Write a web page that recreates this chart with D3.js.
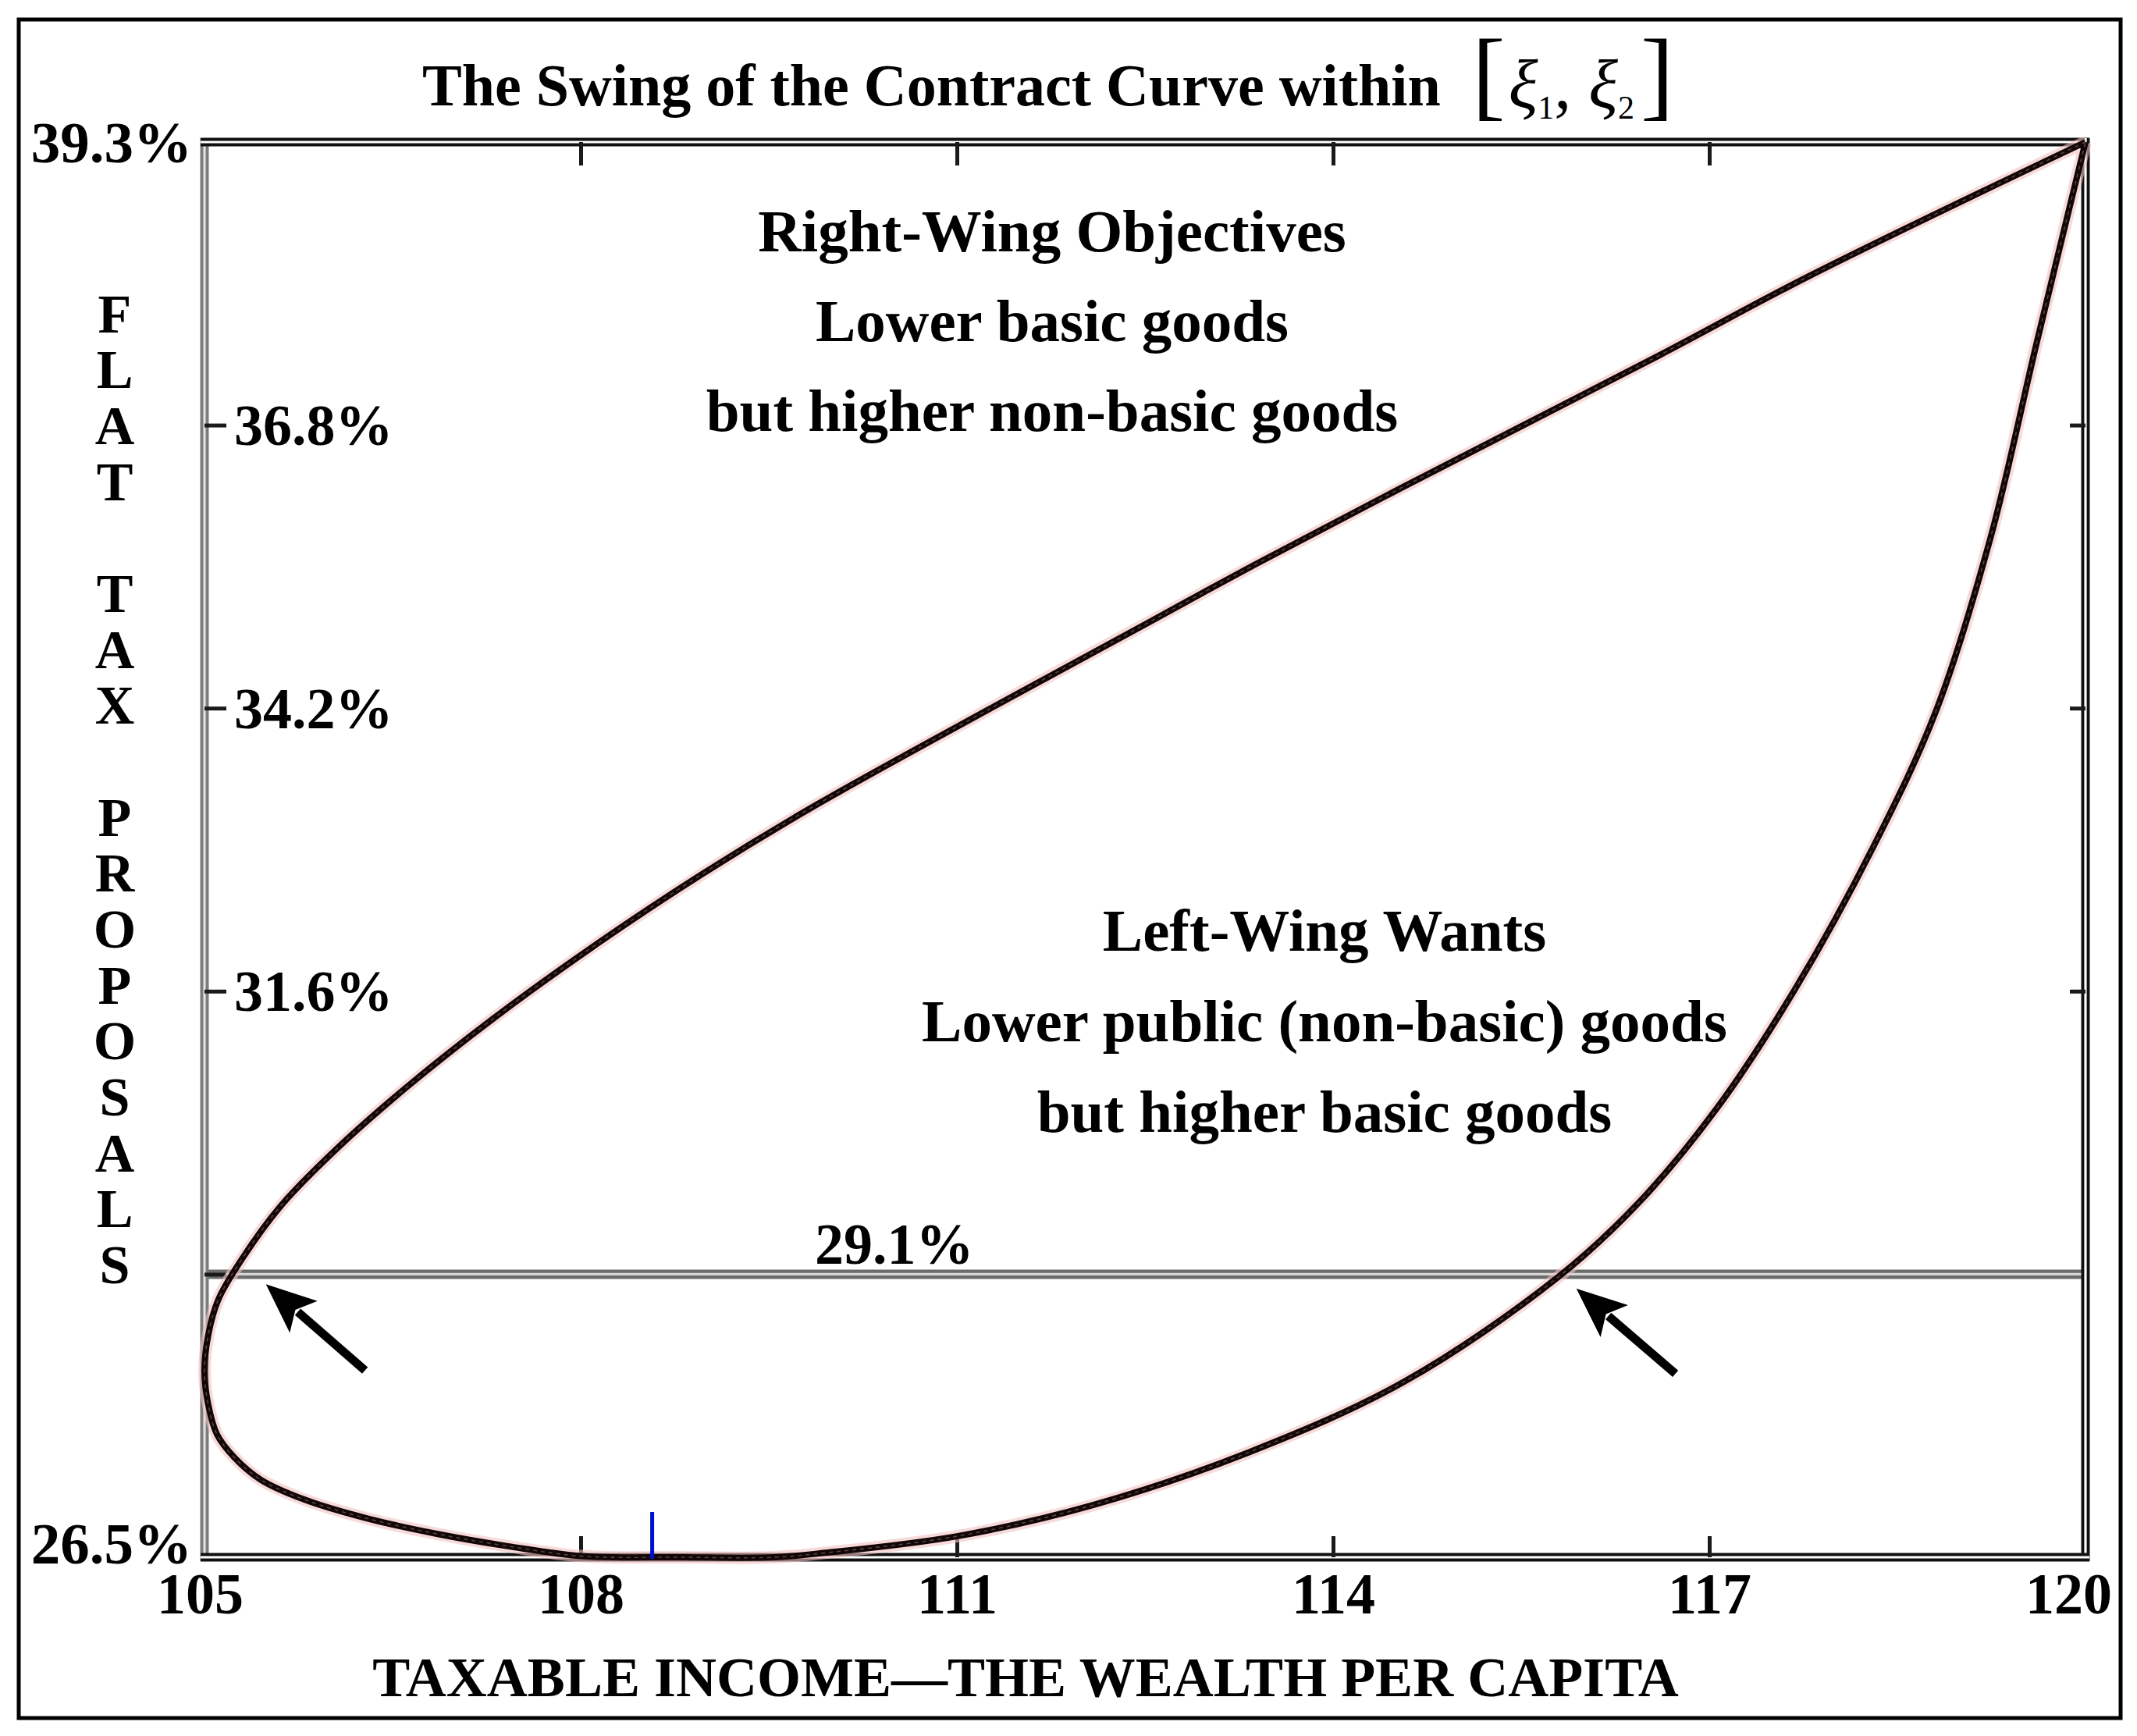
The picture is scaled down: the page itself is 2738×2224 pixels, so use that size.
<!DOCTYPE html>
<html>
<head>
<meta charset="utf-8">
<script src="https://cdn.jsdelivr.net/npm/d3@7"></script>
<style>
  body { margin: 0; background: #fff; }
  text { font-family: "Liberation Serif", "Times New Roman", serif; }
</style>
</head>
<body>
<div id="chart"></div>
<script>
// contract curve: start at the (120, 39.3%) corner, go down the
// upper branch, round the left end, along the bottom and back up the right branch
const curveX = [120, 117.80, 116.60, 114.54, 113.38, 112.52, 111.24, 109.81, 108.97, 108.12,
  107.30, 106.61, 106.05, 105.61, 105.30, 105.11, 105.03, 105.00, 105.03, 105.10,
  105.24, 105.45, 105.80, 106.30, 106.86, 107.42, 108.01, 108.80, 109.55, 109.95,
  111.00, 112.08, 113.33, 114.57, 115.79, 116.44, 117.06, 117.69, 118.31, 118.81,
  119.24, 119.61, 120];
const curveY = [39.3, 38.09, 37.37, 36.17, 35.48, 34.95, 34.16, 33.26, 32.68, 32.04,
  31.37, 30.75, 30.19, 29.68, 29.20, 28.83, 28.51, 28.18, 27.88, 27.61,
  27.40, 27.20, 27.02, 26.85, 26.71, 26.60, 26.51, 26.50, 26.50, 26.54,
  26.69, 26.97, 27.45, 28.09, 29.03, 29.71, 30.56, 31.65, 32.93, 34.16,
  35.71, 37.48, 39.3];

const xTicks = [105, 108, 111, 114, 117, 120];
const yTicks = [39.3, 36.74, 34.18, 31.62, 29.06, 26.5];
const yTickLabels = ["39.3%", "36.8%", "34.2%", "31.6%", "29.1%", "26.5%"];

const cutLevel = 29.06;   // the 29.1% line
const cutLabelX = 110.5;

const arrowTipX = [105.49, 115.94];
const arrowTipY = [28.97, 28.93];
const arrowTailX = [106.28, 116.73];
const arrowTailY = [28.19, 28.16];

const markX = 108.57;     // small blue mark on the bottom axis

const rightWingLines = ["Right-Wing Objectives", "Lower basic goods", "but higher non-basic goods"];
const leftWingLines = ["Left-Wing Wants", "Lower public (non-basic) goods", "but higher basic goods"];
const yTitle = "FLAT TAX PROPOSALS";
const xTitle = "TAXABLE INCOME\u2014THE WEALTH PER CAPITA";

// chart dimensions
const W = 2738, H = 2224;
const margin = { top: 182, right: 66, bottom: 229, left: 262 };
const width = W - margin.left - margin.right;
const height = H - margin.top - margin.bottom;

const svg = d3.select("#chart").append("svg")
  .attr("width", W)
  .attr("height", H)
  .style("background", "#fff");

// outer frame
svg.append("rect")
  .attr("x", 24).attr("y", 25)
  .attr("width", 2693).attr("height", 2176)
  .attr("fill", "none").attr("stroke", "#000").attr("stroke-width", 5);

const g = svg.append("g").attr("transform", `translate(${margin.left},${margin.top})`);

const x = d3.scaleLinear().domain([105, 120]).range([0, width]);
const y = d3.scaleLinear().domain([26.5, 39.3]).range([height, 0]);

// double ruled lines like the original box
function doubleLine(x1, y1, x2, y2, outer, inner, w) {
  g.append("line").attr("x1", x1).attr("y1", y1).attr("x2", x2).attr("y2", y2)
    .attr("stroke", outer).attr("stroke-width", w);
  g.append("line").attr("x1", x1).attr("y1", y1).attr("x2", x2).attr("y2", y2)
    .attr("stroke", inner).attr("stroke-width", w / 3.5);
}

doubleLine(0, y(cutLevel), width, y(cutLevel), "#6c6c6c", "#d6d6d6", 12);
doubleLine(0, -5, 0, height + 5, "#7c7c7c", "#e2e2e2", 11);
doubleLine(-5, 0, width + 5, 0, "#111", "#fff", 11);
doubleLine(width, -5, width, height + 5, "#111", "#fff", 11);
doubleLine(-5, height, width + 5, height, "#111", "#fff", 11);

// tick marks on top and right
const topAxis = g.append("g")
  .call(d3.axisTop(x).tickValues(xTicks.slice(1, -1)).tickSizeInner(-30).tickSizeOuter(0).tickFormat(""));
const rightAxis = g.append("g").attr("transform", `translate(${width},0)`)
  .call(d3.axisRight(y).tickValues(yTicks.slice(1, 4)).tickSizeInner(-20).tickSizeOuter(0).tickFormat(""));

// bottom axis with labels
const bottomAxis = g.append("g").attr("transform", `translate(0,${height})`)
  .call(d3.axisBottom(x).tickValues(xTicks).tickSizeInner(-27).tickSizeOuter(0).tickPadding(19));
bottomAxis.selectAll(".tick line").filter(d => d === 105 || d === 120).remove();
bottomAxis.selectAll(".tick text")
  .attr("dx", d => d === 120 ? -22 : d === 105 ? -6 : 0);

// left axis: inner ticks, labels inside the box
const leftAxis = g.append("g")
  .call(d3.axisRight(y).tickValues(yTicks.slice(1, 5)).tickSizeInner(28).tickSizeOuter(0).tickPadding(10)
    .tickFormat(d => yTickLabels[yTicks.indexOf(d)]));
leftAxis.selectAll(".tick text").filter(d => d === cutLevel).remove();

[topAxis, rightAxis, bottomAxis, leftAxis].forEach(a => {
  a.select(".domain").remove();
  a.selectAll(".tick line").attr("stroke", "#1a1a1a").attr("stroke-width", 5);
  a.selectAll(".tick text")
    .attr("fill", "#000")
    .style("font-family", "'Liberation Serif', serif")
    .style("font-size", "74px")
    .style("font-weight", "bold");
});
leftAxis.selectAll(".tick text").attr("dy", "0.34em");

// end labels outside on the left
[0, 5].forEach(i => {
  g.append("text")
    .attr("x", -16)
    .attr("y", y(yTicks[i]))
    .attr("dy", i === 0 ? "0.34em" : "0.1em")
    .attr("text-anchor", "end")
    .attr("font-size", 75).attr("font-weight", "bold")
    .text(yTickLabels[i]);
});

// 29.1% label above its line
g.append("text")
  .attr("x", x(cutLabelX))
  .attr("y", y(cutLevel) - 13)
  .attr("text-anchor", "middle")
  .attr("font-size", 74).attr("font-weight", "bold")
  .text(yTickLabels[4]);

// the contract curve
const pts = curveX.map((d, i) => [d, curveY[i]]);
const line = d3.line()
  .x(d => x(d[0]))
  .y(d => y(d[1]))
  .curve(d3.curveCatmullRom.alpha(0.5));

g.append("path").datum(pts).attr("d", line)
  .attr("fill", "none").attr("stroke", "#f2c2c2").attr("stroke-width", 16).attr("opacity", 0.6);
g.append("path").datum(pts).attr("d", line)
  .attr("fill", "none").attr("stroke", "#120606").attr("stroke-width", 8)
  .attr("stroke-linejoin", "round");
g.append("path").datum(pts).attr("d", line)
  .attr("fill", "none").attr("stroke", "#a08080").attr("stroke-width", 1.6)
  .attr("stroke-dasharray", "5 5").attr("opacity", 0.5);

// blue mark
g.append("line")
  .attr("x1", x(markX)).attr("x2", x(markX))
  .attr("y1", y(26.5) + 2).attr("y2", y(26.5) - 58)
  .attr("stroke", "#0010d0").attr("stroke-width", 5);

// arrows pointing at the two crossings
arrowTipX.forEach((tx, i) => {
  const tip = [x(tx), y(arrowTipY[i])];
  const tail = [x(arrowTailX[i]), y(arrowTailY[i])];
  const dx = tip[0] - tail[0], dy = tip[1] - tail[1];
  const len = Math.hypot(dx, dy);
  const ux = dx / len, uy = dy / len;
  const nx = -uy, ny = ux;
  const headLen = 64, half = 27;
  const bx = tip[0] - ux * headLen, by = tip[1] - uy * headLen;
  g.append("line")
    .attr("x1", tail[0]).attr("y1", tail[1])
    .attr("x2", bx + ux * 10).attr("y2", by + uy * 10)
    .attr("stroke", "#000").attr("stroke-width", 11);
  g.append("path")
    .attr("d", `M${tip[0]},${tip[1]} L${bx + nx * half},${by + ny * half} L${bx + ux * 14},${by + uy * 14} L${bx - nx * half},${by - ny * half} Z`)
    .attr("fill", "#000");
});

// annotations
function block(lines, cx, baselines) {
  lines.forEach((t, i) => {
    svg.append("text")
      .attr("x", cx).attr("y", baselines[i])
      .attr("text-anchor", "middle")
      .attr("font-size", 77).attr("font-weight", "bold")
      .text(t);
  });
}
block(rightWingLines, 1348, [322, 437, 552]);
block(leftWingLines, 1697, [1218, 1334, 1450]);

// title
svg.append("text")
  .attr("x", 541).attr("y", 135)
  .attr("font-size", 76).attr("font-weight", "bold")
  .text("The Swing of the Contract Curve within");

const br = svg.append("text").attr("x", 1886).attr("y", 138).attr("font-size", 88);
br.append("tspan").attr("font-size", 128).text("[");
br.append("tspan").attr("font-style", "italic").attr("dx", 4).text("\u03be");
br.append("tspan").attr("font-size", 42).attr("dy", 14).text("1");
br.append("tspan").attr("dy", -14).text(", ");
br.append("tspan").attr("font-style", "italic").text("\u03be");
br.append("tspan").attr("font-size", 42).attr("dy", 14).text("2");
br.append("tspan").attr("font-size", 128).attr("dy", -14).attr("dx", 8).text("]");

// x axis title
svg.append("text")
  .attr("x", 1314).attr("y", 2173)
  .attr("text-anchor", "middle")
  .attr("font-size", 72).attr("font-weight", "bold")
  .text(xTitle);

// y axis title, one letter per row
const letters = yTitle.split("");
const rowScale = d3.scalePoint().domain(d3.range(letters.length)).range([402, 1620]);
svg.append("g").selectAll("text")
  .data(letters)
  .enter()
  .append("text")
  .attr("x", 147)
  .attr("y", (d, i) => rowScale(i))
  .attr("dy", "0.34em")
  .attr("text-anchor", "middle")
  .attr("font-size", 70).attr("font-weight", "bold")
  .text(d => d);
</script>
</body>
</html>
